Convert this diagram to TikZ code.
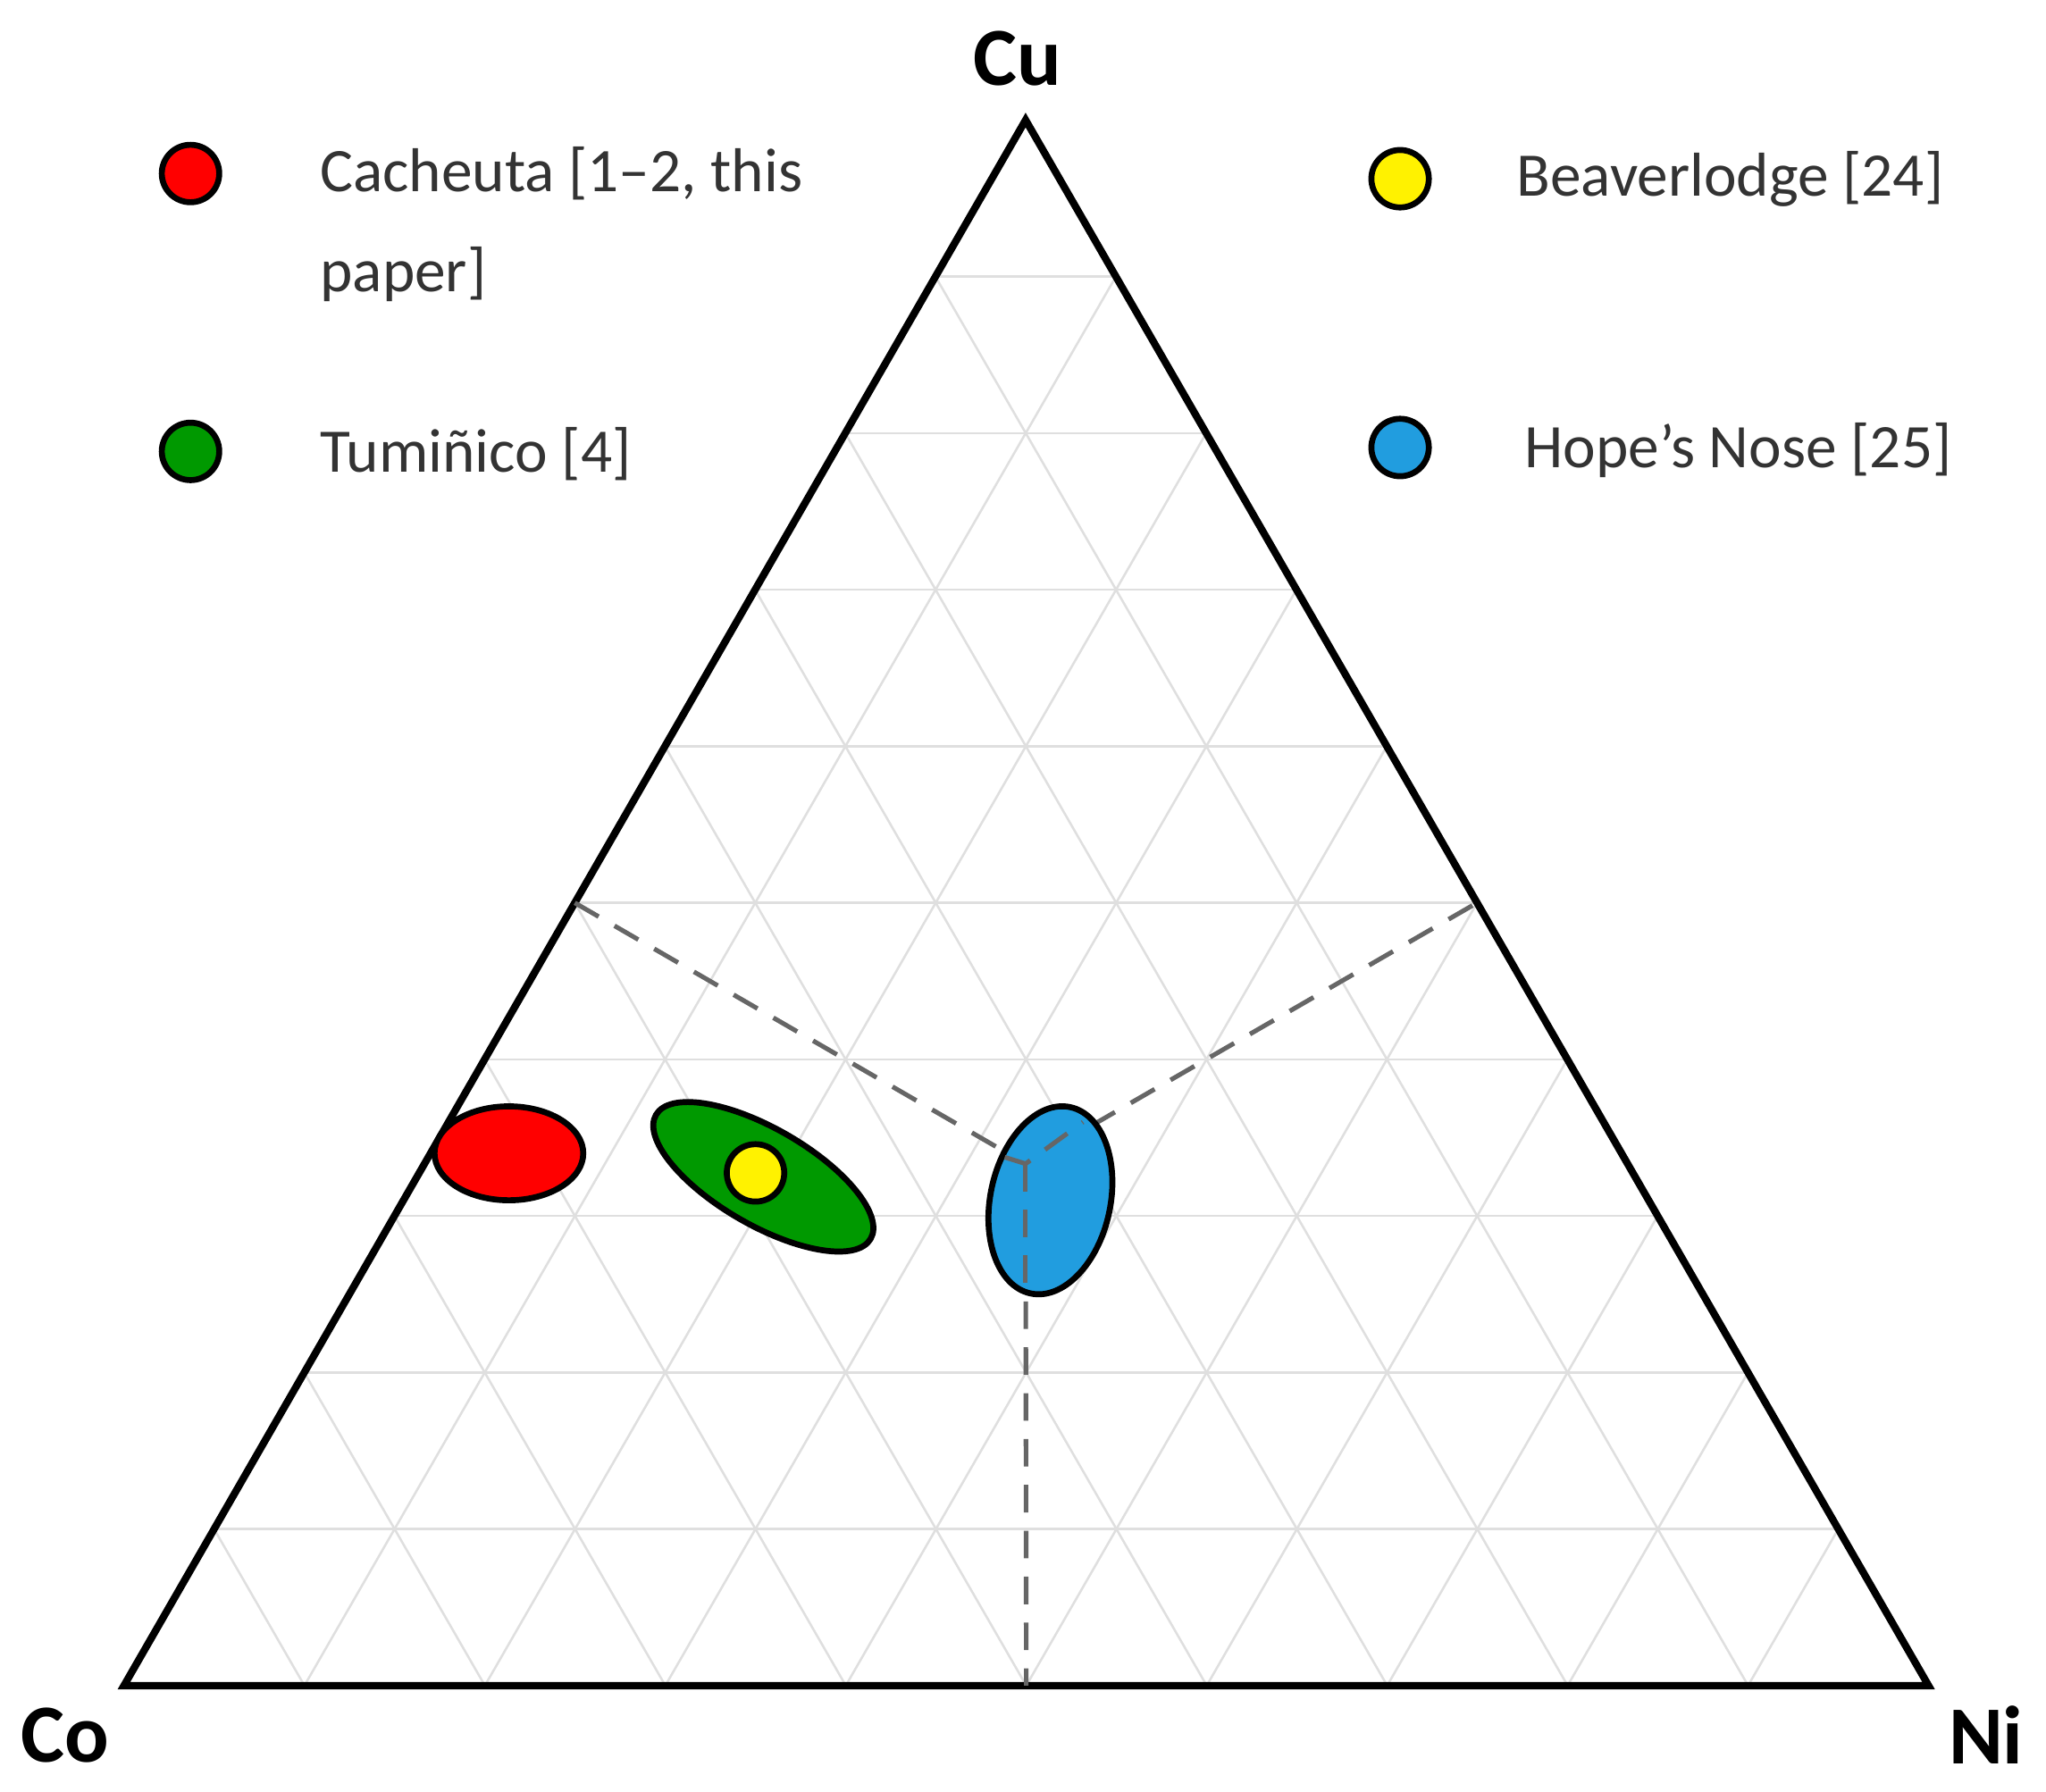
\documentclass[tikz,border=0pt]{standalone}
\usepackage{fontspec}
\usetikzlibrary{calc}
\setmainfont{Carlito}
\begin{document}
\begin{tikzpicture}[x=0.01cm,y=-0.01cm,
  grid/.style={gray!25,line width=0.5pt},
  medianline/.style={gray!80!black,line width=1pt,dash pattern=on 6pt off 4pt},
  blob/.style={draw=black,line width=1.3pt},
  leg/.style={circle,draw=black,line width=1.3pt,minimum size=0.44cm,inner sep=0},
  lbl/.style={anchor=west,font=\fontsize{13.5}{16}\selectfont,text=black!80},
  corner/.style={font=\fontsize{18}{20}\selectfont\bfseries}]
\useasboundingbox (0,0) rectangle (1568,1373);
\coordinate (Co) at (95,1292);
\coordinate (Ni) at (1478,1292);
\coordinate (Cu) at (786,92);
% grid
\foreach \i in {1,...,9}{
  \draw[grid] ($(Co)!\i/10!(Cu)$) -- ($(Ni)!\i/10!(Cu)$);
  \draw[grid] ($(Co)!\i/10!(Ni)$) -- ($(Cu)!\i/10!(Ni)$);
  \draw[grid] ($(Ni)!\i/10!(Co)$) -- ($(Cu)!\i/10!(Co)$);
}
\draw[line width=1.6pt,line join=miter] (Co) -- (Ni) -- (Cu) -- cycle;
% medians
\coordinate (G) at (786,892);
\coordinate (mL) at ($(Co)!0.5!(Cu)$);
\coordinate (mR) at ($(Ni)!0.5!(Cu)$);
\coordinate (mB) at ($(Co)!0.5!(Ni)$);
\draw[medianline] (mL) -- (G) -- (mR);
\draw[medianline] (G) -- (mB);
% fields
\draw[blob,fill=red] (390,884) ellipse [x radius=57,y radius=36];
\draw[blob,fill=green!60!black] (585,902) ellipse [x radius=95,y radius=37,rotate=-30];
\draw[blob,fill=cyan!80!blue!90] (805,920) ellipse [x radius=46,y radius=73,rotate=-12];
\draw[medianline] (770,887) -- (G) -- (830,860);
\draw[medianline] (G) -- (786,985);
\node[leg,fill=yellow] (yb) at (579,899) {};
% legend
\node[leg,fill=red] (l1) at (146,133) {};
\node[lbl] (t1) at (233,133) {Cacheuta [1–2, this};
\node[lbl] (t1b) at (233,210) {paper]};
\node[leg,fill=green!60!black] (l2) at (146,346) {};
\node[lbl] (t2) at (233,348) {Tumiñico [4]};
\node[leg,fill=yellow] (l3) at (1073,137) {};
\node[lbl] (t3) at (1150,137) {Beaverlodge [24]};
\node[leg,fill=cyan!80!blue!90] (l4) at (1073,343) {};
\node[lbl] (t4) at (1156,345) {Hope’s Nose [25]};
% corners
\node[corner] (cu) at (780,45) {Cu};
\node[corner] (co) at (50,1330) {Co};
\node[corner] (ni) at (1522,1330) {Ni};
\end{tikzpicture}
\end{document}
